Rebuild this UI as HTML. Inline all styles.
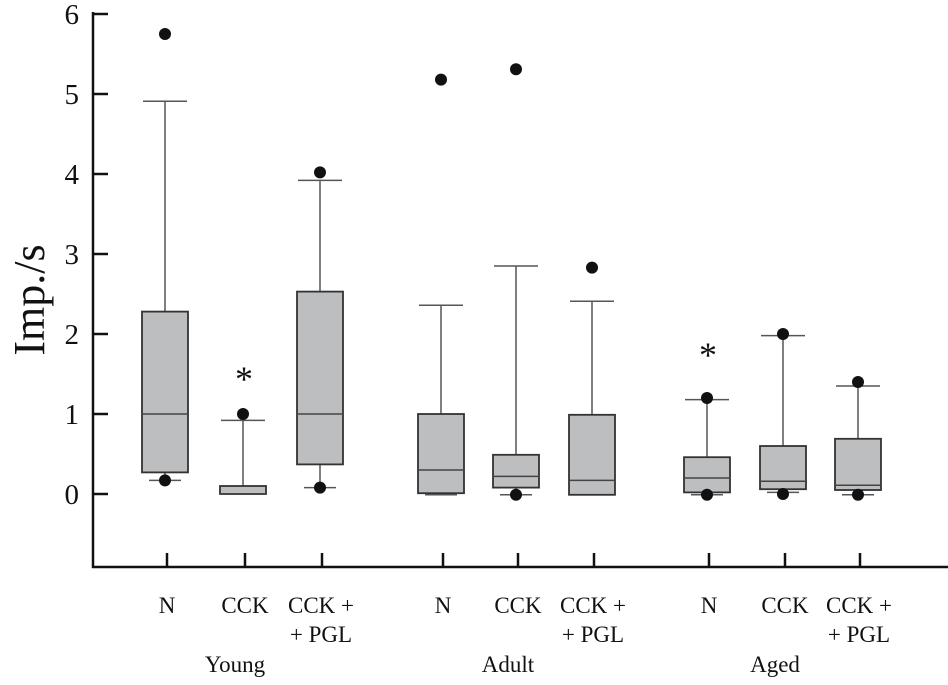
<!DOCTYPE html>
<html><head><meta charset="utf-8"><style>
body{margin:0;background:#fff;}
svg text{font-family:"Liberation Serif",serif;fill:#111;}
</style></head><body>
<svg width="948" height="680" viewBox="0 0 948 680">
<g id="plot"></g>
</svg>
<script>
const categories=["N","CCK","CCK +\n+ PGL","N","CCK","CCK +\n+ PGL","N","CCK","CCK +\n+ PGL"];
const groups=["Young","Adult","Aged"];
const whiskerTop=[4.91,0.92,3.92,2.36,2.85,2.41,1.18,1.98,1.35];
const q3=[2.28,0.1,2.53,1.0,0.49,0.99,0.46,0.6,0.69];
const median=[1.0,0.0,1.0,0.3,0.22,0.17,0.2,0.16,0.11];
const q1=[0.27,0.0,0.37,0.01,0.08,-0.01,0.02,0.06,0.05];
const whiskerBottom=[0.17,0.0,0.08,-0.01,-0.01,-0.01,-0.01,0.02,-0.01];
const outliers=[[5.75,0.17],[1.0],[4.02,0.08],[5.18],[5.31,-0.01],[2.83],[1.2,-0.01],[2.0,0.0],[1.4,-0.01]];
const stars=[null,1.5,null,null,null,null,1.8,null,null];
const yTicks=[0,1,2,3,4,5,6];
const centers=[165,243,320,441,516,592,707,783,858];

const NS="http://www.w3.org/2000/svg";
const g=document.getElementById('plot');
const y=v=>494-v*80;
function mk(tag,attrs,parent){const e=document.createElementNS(NS,tag);for(const k in attrs)e.setAttribute(k,attrs[k]);(parent||g).appendChild(e);return e;}

let ax=mk('line',{x1:93,y1:12,x2:93,y2:568,stroke:'#111','stroke-width':2.5});


let bx=mk('line',{x1:92,y1:567,x2:948,y2:567,stroke:'#111','stroke-width':2.5});


let yl=mk('text',{x:0,y:0,'font-size':44,'text-anchor':'middle',transform:'translate(44,300) rotate(-90)'});
yl.textContent='Imp./s';



yTicks.forEach(t=>{
  let tk=mk('line',{x1:93,y1:y(t),x2:108,y2:y(t),stroke:'#111','stroke-width':2.5});
  
  
  let tl=mk('text',{x:79,y:y(t)+10,'font-size':29,'text-anchor':'end'});
  tl.textContent=t;
  
  
});

categories.forEach((c,i)=>{
  const cx=centers[i],hw=23;
  let tk=mk('line',{x1:cx+2,y1:553,x2:cx+2,y2:567,stroke:'#111','stroke-width':2.5});
  
  
  const box=mk('g',{});
  
  
  mk('line',{x1:cx,y1:y(whiskerTop[i]),x2:cx,y2:y(q3[i]),stroke:'#555','stroke-width':1.5},box);
  mk('line',{x1:cx-22,y1:y(whiskerTop[i]),x2:cx+22,y2:y(whiskerTop[i]),stroke:'#555','stroke-width':1.5},box);
  mk('line',{x1:cx,y1:y(q1[i]),x2:cx,y2:y(whiskerBottom[i]),stroke:'#555','stroke-width':1.5},box);
  mk('line',{x1:cx-16,y1:y(whiskerBottom[i]),x2:cx+16,y2:y(whiskerBottom[i]),stroke:'#555','stroke-width':1.5},box);
  mk('rect',{x:cx-hw,y:y(q3[i]),width:hw*2,height:Math.max(y(q1[i])-y(q3[i]),1),fill:'#bdbebf',stroke:'#333','stroke-width':1.8},box);
  mk('line',{x1:cx-hw,y1:y(median[i]),x2:cx+hw,y2:y(median[i]),stroke:'#444','stroke-width':1.5},box);
  outliers[i].forEach(o=>{
    let d=mk('circle',{cx:cx,cy:y(o),r:6,fill:'#111'});
    
    
  });
  if(stars[i]!=null){
    let s=mk('text',{x:cx+1,y:y(stars[i])+17,'font-size':36,'text-anchor':'middle'});
    s.textContent='*';
    
    
  }
  const lines=c.split('\n');
  lines.forEach((ln,k)=>{
    let t=mk('text',{x:cx+(lines.length>1?1:2),y:613+k*29,'font-size':23,'text-anchor':'middle'});
    t.textContent=ln;
    
    
  });
});
groups.forEach((gname,j)=>{
  let t=mk('text',{x:centers[j*3+1]-8,y:672,'font-size':23,'text-anchor':'middle'});
  t.textContent=gname;
  
  
});
</script>
</body></html>
